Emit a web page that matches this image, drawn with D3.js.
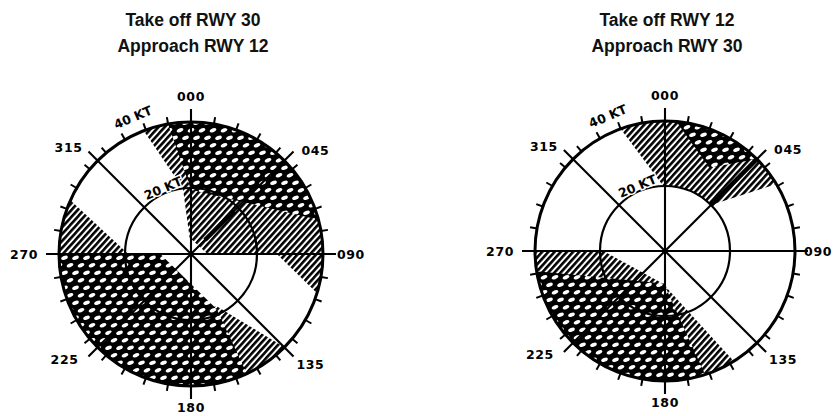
<!DOCTYPE html>
<html>
<head>
<meta charset="utf-8">
<script src="https://cdn.jsdelivr.net/npm/d3@7"></script>
<style>
  body { margin: 0; background: #fff; }
  svg { display: block; }
  .title { font-family: "Liberation Sans", Arial, sans-serif; font-weight: bold; font-size: 17.5px; fill: #111; }
  .dir { font-family: "DejaVu Sans", sans-serif; font-weight: bold; font-size: 12.5px; fill: #000; }
  .kt { font-family: "DejaVu Sans", sans-serif; font-weight: bold; font-size: 12.5px; fill: #000; }
</style>
</head>
<body>
<div id="chart"></div>
<script>
// titles of the two roses
const leftTitle = ["Take off RWY 30", "Approach RWY 12"];
const rightTitle = ["Take off RWY 12", "Approach RWY 30"];

// compass directions drawn as full lines, and their labels
const directions = [0, 45, 90, 135, 180, 225, 270, 315];
const directionLabels = ["000", "045", "090", "135", "180", "225", "270", "315"];

// wind speed rings (knots)
const speedRings = [20, 40];
const ringLabels = ["20 KT", "40 KT"];

// shaded areas, vertices as [bearing deg, speed kt]; inner = area starts at that ring
const leftHatch = [
  { pts: [[339, 40], [353, 20], [355, 5], [90, 5], [90, 26], [108, 41], [110, 60], [45, 70], [339, 60]], inner: 0 },
  { pts: [[154, 17.5], [135, 40], [135, 60], [160, 60], [160, 17.5]], inner: 0 },
  { pts: [[294, 40], [270, 19], [270, 60], [294, 60]], inner: 0 }
];
const leftOvals = [
  { pts: [[0, 19.5], [350, 40], [350, 60], [45, 70], [75, 60], [75, 40]], inner: 0 },
  { pts: [[270, 9.3], [155, 18.5], [155, 60], [210, 65], [270, 60]], inner: 0 }
];
const leftThick = [[45, 6, 18.5]];

const rightHatch = [
  { pts: [[340, 40], [358.5, 20], [20, 5], [45, 20], [59, 40], [59, 60], [0, 65], [340, 60]], inner: 20 },
  { pts: [[270, 60], [270, 19], [184, 10], [148, 40], [148, 60], [210, 70]], inner: 0 }
];
const rightOvals = [
  { pts: [[5, 40], [28, 29], [45, 40], [45, 60], [5, 60]], inner: 0 },
  { pts: [[261, 40], [182, 10], [162, 40], [162, 60], [210, 65], [261, 60]], inner: 0 }
];
const rightThick = [[45, 20, 40]];

var width = 833, height = 416;

var charts = [
  { cx: 191, cy: 254, r: 132, tx: 193, title: leftTitle, hatch: leftHatch, ovals: leftOvals, thick: leftThick },
  { cx: 665, cy: 251, r: 130, tx: 667, title: rightTitle, hatch: rightHatch, ovals: rightOvals, thick: rightThick }
];

var svg = d3.select("#chart")
    .append("svg")
    .attr("width", width)
    .attr("height", height);

svg.append("rect").attr("width", width).attr("height", height).attr("fill", "#fff");

var defs = svg.append("defs");

// diagonal line hatching
var hp = defs.append("pattern")
    .attr("id", "hatch")
    .attr("patternUnits", "userSpaceOnUse")
    .attr("width", 10)
    .attr("height", 4.6)
    .attr("patternTransform", "rotate(-48)");
hp.append("rect").attr("width", 10).attr("height", 2.6).attr("fill", "#000");

// black with white oval holes
var op = defs.append("pattern")
    .attr("id", "ovals")
    .attr("patternUnits", "userSpaceOnUse")
    .attr("width", 11)
    .attr("height", 15);
op.append("rect").attr("width", 11).attr("height", 15).attr("fill", "#000");
[[5.5, 3.75], [0, 11.25], [11, 11.25]].forEach(function(p) {
    op.append("ellipse")
        .attr("cx", p[0]).attr("cy", p[1])
        .attr("rx", 3.5).attr("ry", 1.9)
        .attr("transform", "rotate(-22," + p[0] + "," + p[1] + ")")
        .attr("fill", "#fff");
});

const ang = d3.scaleLinear().domain([0, 360]).range([0, 2 * Math.PI]);

// where each direction label sits relative to the end of its line
function labelSpot(d, R, end) {
    switch (d) {
        case 0:   return { x: 0, y: -(R + 21), a: "middle" };
        case 45:  return { x: end[0] + 8, y: end[1] + 4, a: "start" };
        case 90:  return { x: R + 14, y: 5, a: "start" };
        case 135: return { x: end[0] + 3, y: end[1] + 12, a: "start" };
        case 180: return { x: 0, y: R + 26, a: "middle" };
        case 225: return { x: end[0] - 10, y: end[1] + 7, a: "end" };
        case 270: return { x: -(R + 21), y: 5, a: "end" };
        default:  return { x: end[0] - 6, y: end[1] + 1, a: "end" };
    }
}

charts.forEach(function(c, i) {
    var rs = d3.scaleLinear().domain([0, 40]).range([0, c.r]);

    var radial = d3.lineRadial()
        .angle(function(d) { return ang(d[0]) })
        .radius(function(d) { return rs(d[1]) })
        .curve(d3.curveLinearClosed);

    // titles
    c.title.forEach(function(t, j) {
        svg.append("text")
            .attr("class", "title")
            .attr("x", c.tx)
            .attr("y", 26 + j * 26)
            .attr("text-anchor", "middle")
            .text(t);
    });

    var g = svg.append("g").attr("transform", "translate(" + c.cx + "," + c.cy + ")");

    // clips: full disk and 20-40 kt ring
    defs.append("clipPath").attr("id", "disk" + i)
        .append("circle").attr("r", c.r);
    var ring = d3.path();
    ring.moveTo(c.r, 0); ring.arc(0, 0, c.r, 0, 2 * Math.PI);
    ring.moveTo(rs(20), 0); ring.arc(0, 0, rs(20), 0, 2 * Math.PI);
    defs.append("clipPath").attr("id", "ring" + i)
        .append("path").attr("clip-rule", "evenodd").attr("d", ring.toString());

    var layer = g.append("g").attr("clip-path", "url(#disk" + i + ")");

    c.hatch.forEach(function(reg) {
        layer.append("path")
            .attr("d", radial(reg.pts))
            .attr("fill", "url(#hatch)")
            .attr("clip-path", reg.inner ? "url(#ring" + i + ")" : null);
    });
    c.ovals.forEach(function(reg) {
        layer.append("path")
            .attr("d", radial(reg.pts))
            .attr("fill", "url(#ovals)")
            .attr("clip-path", reg.inner ? "url(#ring" + i + ")" : null);
    });

    // speed rings
    speedRings.forEach(function(s) {
        g.append("circle")
            .attr("r", rs(s))
            .attr("fill", "none")
            .attr("stroke", "#000")
            .attr("stroke-width", s === 40 ? 3 : 2.2);
    });

    // direction lines through the centre
    directions.filter(function(d) { return d < 180 }).forEach(function(d) {
        var p1 = d3.pointRadial(ang(d), c.r + 13);
        var p2 = d3.pointRadial(ang(d + 180), c.r + 13);
        g.append("line")
            .attr("x1", p1[0]).attr("y1", p1[1])
            .attr("x2", p2[0]).attr("y2", p2[1])
            .attr("stroke", "#000")
            .attr("stroke-width", 2.1);
    });

    c.thick.forEach(function(t) {
        var p1 = d3.pointRadial(ang(t[0]), rs(t[1]));
        var p2 = d3.pointRadial(ang(t[0]), rs(t[2]));
        g.append("line")
            .attr("x1", p1[0]).attr("y1", p1[1])
            .attr("x2", p2[0]).attr("y2", p2[1])
            .attr("stroke", "#000")
            .attr("stroke-width", 4.5);
    });

    // 10 degree ticks
    d3.range(10, 360, 10).filter(function(d) { return d % 90 !== 0 }).forEach(function(d) {
        var p1 = d3.pointRadial(ang(d), c.r);
        var p2 = d3.pointRadial(ang(d), c.r + 7);
        g.append("line")
            .attr("x1", p1[0]).attr("y1", p1[1])
            .attr("x2", p2[0]).attr("y2", p2[1])
            .attr("stroke", "#000")
            .attr("stroke-width", 2);
    });

    // direction labels
    directions.forEach(function(d, k) {
        var end = d3.pointRadial(ang(d), c.r + 13);
        var s = labelSpot(d, c.r, end);
        var t = g.append("text")
            .attr("class", "dir")
            .attr("x", s.x)
            .attr("y", s.y)
            .attr("text-anchor", s.a)
            .style("letter-spacing", "0.6px")
            .text(directionLabels[k]);
        // keep a label at the page edge inside the picture
        var len = t.node().getComputedTextLength();
        if (s.a === "start" && c.cx + s.x + len > width - 1) {
            t.attr("x", width - 1 - c.cx - len);
        }
        if (c.cy + s.y > height - 3) {
            t.attr("y", height - 3 - c.cy);
        }
    });

    // ring labels along the circles
    speedRings.forEach(function(s, k) {
        var off = s === 40 ? 12 : 1;
        g.append("text")
            .attr("class", "kt")
            .attr("transform", "rotate(-23) translate(0," + (-(rs(s) + off)) + ")")
            .attr("text-anchor", "middle")
            .attr("stroke", "#fff")
            .attr("stroke-width", 3)
            .attr("paint-order", "stroke")
            .text(ringLabels[k]);
    });
});
</script>
</body>
</html>
